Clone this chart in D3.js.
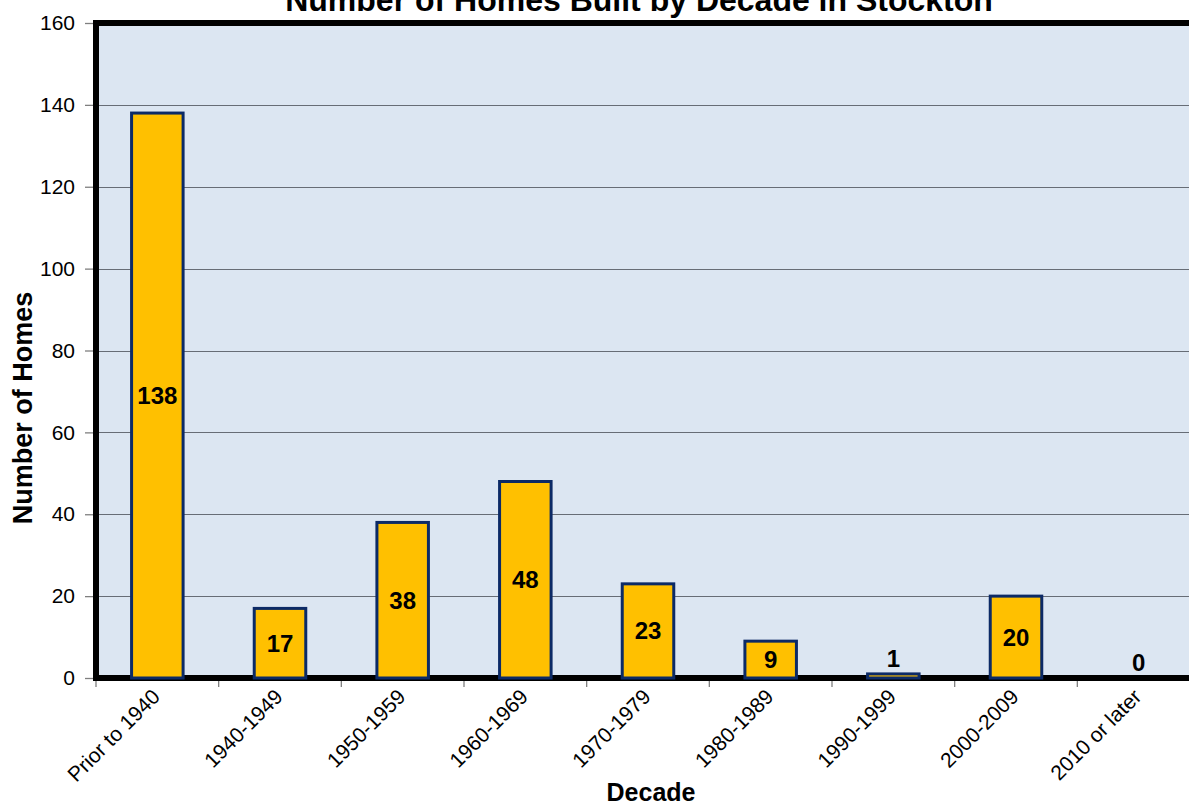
<!DOCTYPE html>
<html>
<head>
<meta charset="utf-8">
<script src="https://cdn.jsdelivr.net/npm/d3@7"></script>
<style>
  html, body { margin: 0; padding: 0; background: #ffffff; }
  svg { display: block; font-family: Arial, "Liberation Sans", sans-serif; }
</style>
</head>
<body>
<svg id="chart" width="1189" height="807"></svg>
<script>
// Homes built in Stockton, grouped by decade of construction
const decades = ["Prior to 1940", "1940-1949", "1950-1959", "1960-1969", "1970-1979",
                 "1980-1989", "1990-1999", "2000-2009", "2010 or later"];
const homes = [138, 17, 38, 48, 23, 9, 1, 20, 0];
const yTicks = [0, 20, 40, 60, 80, 100, 120, 140, 160];

const chartTitle = "Number of Homes Built by Decade in Stockton";
const xTitle = "Decade";
const yTitle = "Number of Homes";

const svg = d3.select("#chart");
const plot = { left: 96, right: 1200, top: 23, bottom: 678 };

const x = d3.scaleBand().domain(decades).range([plot.left, plot.right]);
const y = d3.scaleLinear().domain([0, 160]).range([plot.bottom, plot.top]);
const barW = x.bandwidth() * 0.42;

// plot background
svg.append("rect")
  .attr("x", plot.left).attr("y", plot.top)
  .attr("width", plot.right - plot.left).attr("height", plot.bottom - plot.top)
  .attr("fill", "#dce6f2");

// horizontal gridlines
svg.append("g").selectAll("line").data(yTicks.filter(t => t > 0 && t < 160)).join("line")
  .attr("x1", plot.left).attr("x2", plot.right)
  .attr("y1", d => Math.round(y(d)) + 0.5).attr("y2", d => Math.round(y(d)) + 0.5)
  .attr("stroke", "#676d76").attr("stroke-width", 1.2);

// y axis ticks and labels
const yAxis = d3.axisLeft(y).tickValues(yTicks).tickSize(8).tickPadding(10);
const gy = svg.append("g").attr("transform", `translate(${plot.left - 3},0)`).call(yAxis);
gy.select(".domain").remove();
gy.selectAll(".tick line").attr("stroke", "#7f7f7f").attr("stroke-width", 1.3);
gy.selectAll(".tick text").attr("font-size", 21).attr("fill", "#000")
  .attr("font-family", "Arial, 'Liberation Sans', sans-serif");

// x axis ticks at category boundaries
const bounds = decades.map(d => x(d)).concat([plot.right]);
svg.append("g").selectAll("line").data(bounds).join("line")
  .attr("x1", d => d).attr("x2", d => d)
  .attr("y1", plot.bottom).attr("y2", plot.bottom + 9)
  .attr("stroke", "#7f7f7f").attr("stroke-width", 1.3);

// plot frame
svg.append("rect")
  .attr("x", plot.left).attr("y", plot.top)
  .attr("width", plot.right - plot.left).attr("height", plot.bottom - plot.top)
  .attr("fill", "none").attr("stroke", "#000").attr("stroke-width", 6);

// bars
svg.append("g").selectAll("rect").data(decades.map((d, i) => ({ d, v: homes[i] }))).join("rect")
  .attr("x", p => x(p.d) + (x.bandwidth() - barW) / 2)
  .attr("y", p => y(p.v))
  .attr("width", barW)
  .attr("height", p => y(0) - y(p.v))
  .attr("fill", "#ffc000")
  .attr("stroke", p => p.v > 0 ? "#0c2a66" : "none")
  .attr("stroke-width", 3);

// value labels
svg.append("g").selectAll("text").data(decades.map((d, i) => ({ d, v: homes[i] }))).join("text")
  .attr("x", p => x(p.d) + x.bandwidth() / 2)
  .attr("y", p => {
    const h = y(0) - y(p.v);
    return h < 20 ? y(p.v) - 7 : (y(p.v) + y(0)) / 2 + 8.5;
  })
  .attr("text-anchor", "middle")
  .attr("font-size", 24).attr("font-weight", "bold").attr("fill", "#000")
  .text(p => p.v);

// category labels, rotated
svg.append("g").selectAll("text").data(decades).join("text")
  .attr("transform", d => `translate(${x(d) + x.bandwidth() / 2 + 4},${plot.bottom + 20}) rotate(-45)`)
  .attr("text-anchor", "end")
  .attr("font-size", 21).attr("fill", "#000")
  .text(d => d);

// titles
svg.append("text")
  .attr("x", 639).attr("y", 11)
  .attr("text-anchor", "middle")
  .attr("font-size", 32).attr("font-weight", "bold")
  .text(chartTitle);

svg.append("text")
  .attr("x", 651).attr("y", 801)
  .attr("text-anchor", "middle")
  .attr("font-size", 25).attr("font-weight", "bold")
  .text(xTitle);

svg.append("text")
  .attr("transform", `translate(32,408) rotate(-90)`)
  .attr("text-anchor", "middle")
  .attr("font-size", 27).attr("font-weight", "bold")
  .text(yTitle);
</script>
</body>
</html>
